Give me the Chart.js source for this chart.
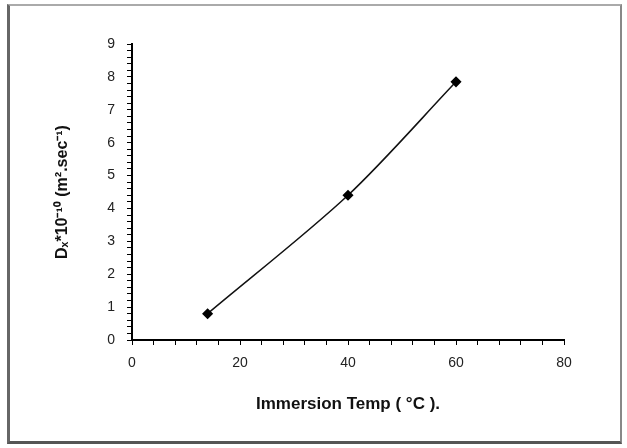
<!DOCTYPE html>
<html>
<head>
<meta charset="utf-8">
<script src="https://cdn.jsdelivr.net/npm/chart.js@4/dist/chart.umd.min.js"></script>
<style>
  html, body { margin: 0; padding: 0; background: #fff; }
  #wrap { position: relative; width: 627px; height: 448px; }
  #frame {
    position: absolute; left: 7px; top: 4px; width: 610px; height: 435px;
    border-left: 3px solid #666; border-top: 2px solid #aaa;
    border-right: 2px solid #888; border-bottom: 3px solid #555;
    pointer-events: none;
  }
</style>
</head>
<body>
<div id="wrap">
  <canvas id="chart" width="627" height="448"></canvas>
  <div id="frame"></div>
</div>
<script>
// immersion temperature (°C) and diffusion coefficient Dx * 1e-10 (m2/s)
const temps = [14, 40, 60];
const diffusivity = [0.8, 4.4, 7.85];
const xLabels = [0, 20, 40, 60, 80];
const yLabels = [0, 1, 2, 3, 4, 5, 6, 7, 8, 9];

const FONT = "'Liberation Sans', Arial, sans-serif";

const points = temps.map((t, i) => ({ x: t, y: diffusivity[i] }));

const isLabel = (list, v) => list.some((l) => Math.abs(l - v) < 1e-6);

new Chart(document.getElementById("chart"), {
  type: "scatter",
  data: {
    datasets: [{
      data: points,
      showLine: true,
      borderColor: "#111",
      borderWidth: 1.5,
      tension: 0.3,
      pointStyle: "rectRot",
      pointRadius: 4.5,
      pointBackgroundColor: "#000",
      pointBorderColor: "#000"
    }]
  },
  options: {
    responsive: false,
    animation: false,
    layout: { padding: { left: 0, top: 44, right: 63, bottom: 0 } },
    plugins: { legend: { display: false }, tooltip: { enabled: false } },
    scales: {
      x: {
        type: "linear",
        min: 0,
        max: 80,
        afterFit: (s) => { s.height = 108; },
        border: { color: "#000", width: 2 },
        grid: { drawOnChartArea: false, color: "#000", tickLength: 5 },
        ticks: {
          stepSize: 4,
          autoSkip: false,
          maxRotation: 0,
          padding: 10,
          color: "#222",
          font: { family: FONT, size: 14 },
          callback: (v) => (isLabel(xLabels, v) ? String(Math.round(v)) : "")
        },
        title: {
          display: true,
          text: "Immersion Temp ( °C ).",
          color: "#111",
          font: { family: FONT, size: 17, weight: "bold" },
          padding: { top: 0, bottom: 33 }
        }
      },
      y: {
        min: 0,
        max: 9,
        afterFit: (s) => { s.width = 132; },
        border: { color: "#000", width: 2 },
        grid: { drawOnChartArea: false, color: "#000", tickLength: 5 },
        ticks: {
          stepSize: 0.2,
          maxTicksLimit: 100,
          autoSkip: false,
          padding: 12,
          color: "#222",
          font: { family: FONT, size: 14 },
          callback: (v) => (isLabel(yLabels, v) ? String(Math.round(v)) : "")
        },
        title: {
          display: true,
          text: "Dₓ*10⁻¹⁰ (m².sec⁻¹)",
          color: "#111",
          font: { family: FONT, size: 16, weight: "bold" },
          padding: { top: 53 }
        }
      }
    }
  }
});
</script>
</body>
</html>
